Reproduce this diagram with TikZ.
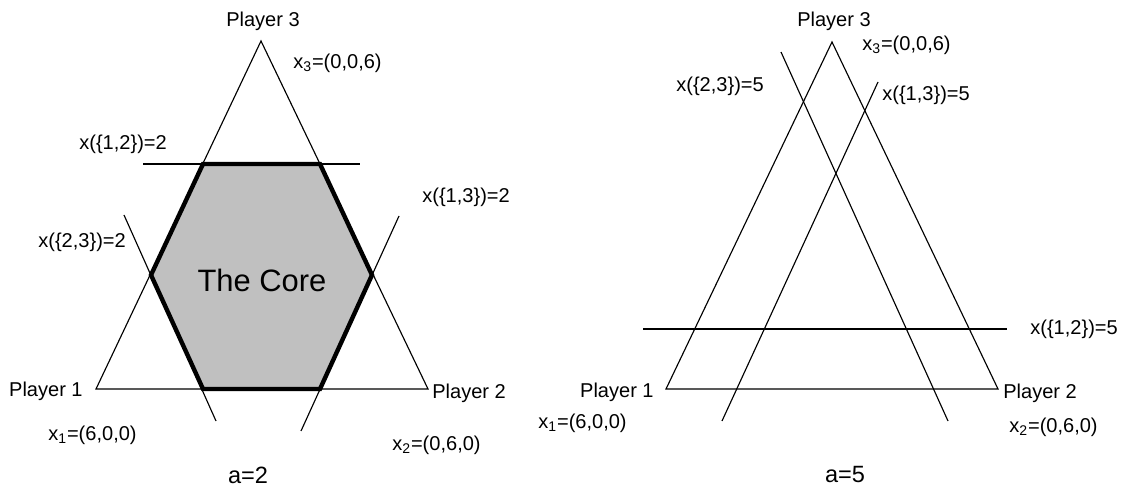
\documentclass[tikz,border=0pt]{standalone}
\usepackage{fontspec}
\setmainfont{Liberation Sans}
\definecolor{corefill}{RGB}{192,192,192}
\tikzset{
  side/.style={black, line width=0.65pt},
  cut/.style={black, line width=0.65pt},
  core/.style={fill=corefill, draw=black, line width=2.5pt, line join=miter},
  lbl/.style={inner sep=0pt, font=\fontsize{11.4}{13}\selectfont},
  caselbl/.style={inner sep=0pt, font=\fontsize{13.4}{15}\selectfont},
}
\begin{document}
\begin{tikzpicture}[x=0.02cm, y=-0.02cm]
    \useasboundingbox (0,0) rectangle (1122,489);

    % a=2, the core is a hexagon
    \coordinate (Lp1) at (96,389);
    \coordinate (Lp2) at (428,389);
    \coordinate (Lp3) at (261,41);
    \fill[corefill] (203,164) -- (320,164) -- (372,275) -- (320,389) -- (203,389) -- (151,275) -- cycle;
    \draw[side] (Lp1) -- (Lp2) -- (Lp3) -- cycle;
    \draw[cut] (143,164) -- (360,164);
    \draw[cut] (124,215) -- (216,421);
    \draw[cut] (399,216) -- (301,431);
    \draw[core, fill=none] (203,164) -- (320,164) -- (372,275) -- (320,389) -- (203,389) -- (151,275) -- cycle;

    \node[lbl] (Lpl3) at (263,21) {Player 3};
    \node[lbl, anchor=west] (Lx3) at (293,63) {x\textsubscript{3}=(0,0,6)};
    \node[lbl, anchor=east] (Lpl1) at (83,391) {Player 1};
    \node[lbl, anchor=west] (Lx1) at (48,435) {x\textsubscript{1}=(6,0,0)};
    \node[lbl, anchor=west] (Lpl2) at (432,393) {Player 2};
    \node[lbl, anchor=west] (Lx2) at (392,445) {x\textsubscript{2}=(0,6,0)};
    \node[lbl, anchor=west] (Lc12) at (79,144) {x(\{1,2\})=2};
    \node[lbl, anchor=west] (Lc23) at (38,242) {x(\{2,3\})=2};
    \node[lbl, anchor=west] (Lc13) at (422,197) {x(\{1,3\})=2};
    \node[inner sep=0pt, font=\fontsize{17.6}{20}\selectfont] (Lcore) at (262,280) {The Core};
    \node[caselbl] (La) at (248,475) {a=2};

    % a=5, the core is empty
    \coordinate (Rp1) at (666,389);
    \coordinate (Rp2) at (998,389);
    \coordinate (Rp3) at (832,42);
    \draw[side] (Rp1) -- (Rp2) -- (Rp3) -- cycle;
    \draw[cut] (643,329) -- (1007,329);
    \draw[cut] (781,52) -- (948,421);
    \draw[cut] (878,82) -- (722,421);

    \node[lbl] (Rpl3) at (834,21) {Player 3};
    \node[lbl, anchor=west] (Rx3) at (862,45) {x\textsubscript{3}=(0,0,6)};
    \node[lbl, anchor=east] (Rpl1) at (654,392) {Player 1};
    \node[lbl, anchor=east] (Rx1) at (627,423) {x\textsubscript{1}=(6,0,0)};
    \node[lbl, anchor=west] (Rpl2) at (1003,393) {Player 2};
    \node[lbl, anchor=west] (Rx2) at (1009,427) {x\textsubscript{2}=(0,6,0)};
    \node[lbl, anchor=west] (Rc12) at (1030,329) {x(\{1,2\})=5};
    \node[lbl, anchor=west] (Rc23) at (676,86) {x(\{2,3\})=5};
    \node[lbl, anchor=west] (Rc13) at (882,95) {x(\{1,3\})=5};
    \node[caselbl] (Ra) at (845,475) {a=5};
\end{tikzpicture}
\end{document}
